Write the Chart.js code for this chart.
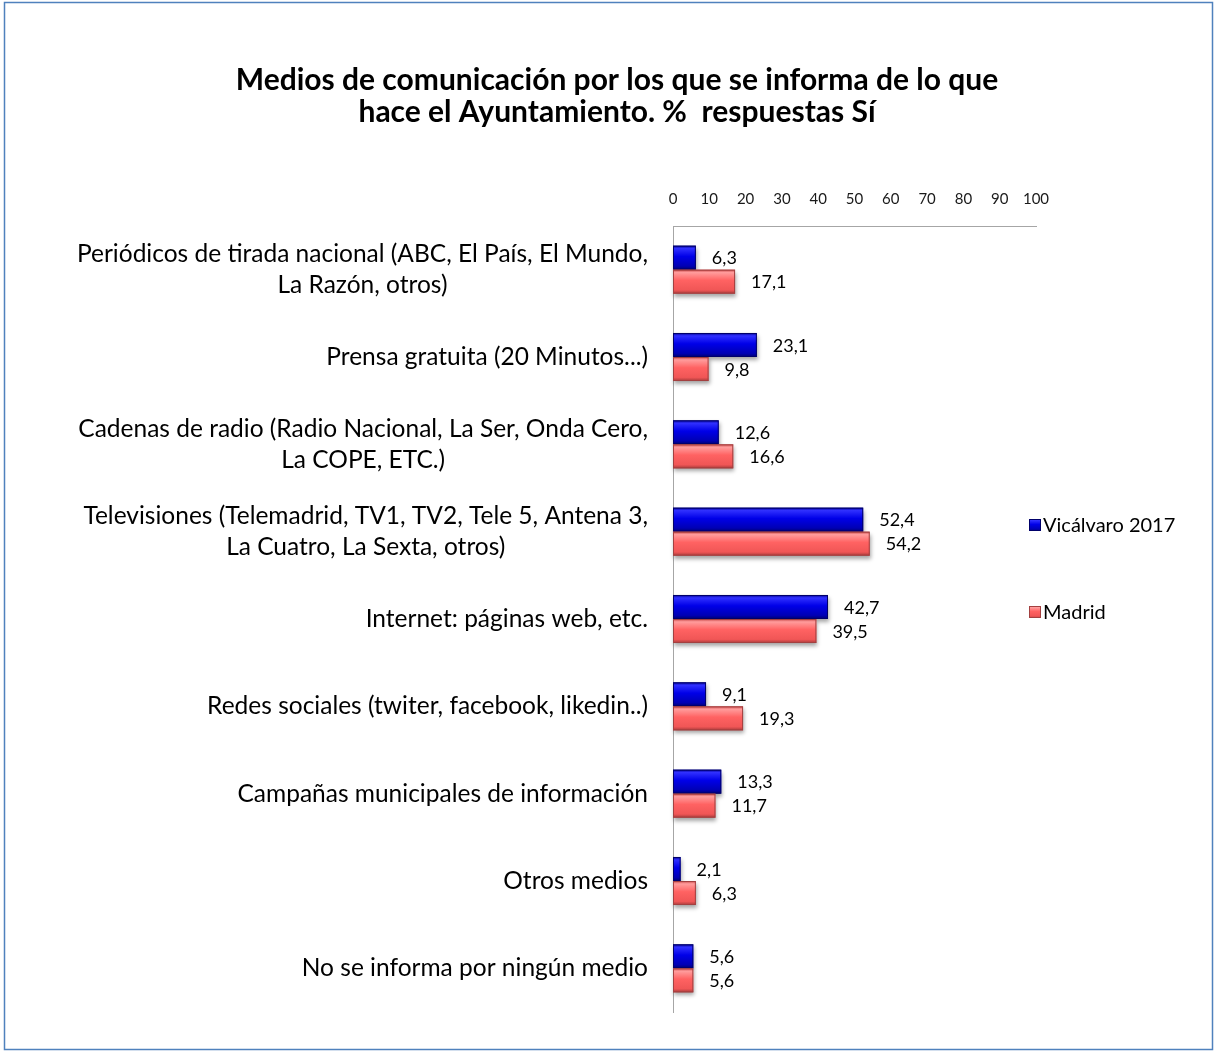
<!DOCTYPE html>
<html lang="es">
<head>
<meta charset="utf-8">
<title>Medios de comunicación - Ayuntamiento</title>
<script src="https://cdn.jsdelivr.net/npm/chart.js@4.4.1/dist/chart.umd.min.js"></script>
<style>
    html, body { margin: 0; padding: 0; background: #ffffff; }
    #wrap { width: 1216px; height: 1052px; }
</style>
</head>
<body>
<div id="wrap"><canvas id="mediosChart" width="1216" height="1052"></canvas></div>
<script>
// Categorías (una línea por elemento)
const categorias = [
    ['Periódicos de tirada nacional (ABC, El País, El Mundo,', 'La Razón, otros)'],
    ['Prensa gratuita (20 Minutos...)'],
    ['Cadenas de radio (Radio Nacional, La Ser, Onda Cero,', 'La COPE, ETC.)'],
    ['Televisiones (Telemadrid, TV1, TV2, Tele 5, Antena 3,', 'La Cuatro, La Sexta, otros)'],
    ['Internet: páginas web, etc.'],
    ['Redes sociales (twiter, facebook, likedin..)'],
    ['Campañas municipales de información'],
    ['Otros medios'],
    ['No se informa por ningún medio']
];

// Series
const serieNombres = ['Vicálvaro 2017', 'Madrid'];
const vicalvaro2017 = [6.3, 23.1, 12.6, 52.4, 42.7, 9.1, 13.3, 2.1, 5.6];
const madrid = [17.1, 9.8, 16.6, 54.2, 39.5, 19.3, 11.7, 6.3, 5.6];

// Eje de valores
const ejeMin = 0;
const ejeMax = 100;
const ejePaso = 10;

const tituloLineas = [
    'Medios de comunicación por los que se informa de lo que',
    'hace el Ayuntamiento. %  respuestas Sí'
];

const FONT = 'Lato, Calibri, "Open Sans", sans-serif';

// Colores de las barras (degradado tipo bisel)
const gradientes = [
    [[0, '#000090'], [0.12, '#3030ff'], [0.45, '#0000e8'], [0.85, '#0000b4'], [1, '#000070']],
    [[0, '#c84848'], [0.12, '#ff9c9c'], [0.45, '#ff6262'], [0.85, '#f05656'], [1, '#a83a3a']]
];
const bordes = ['#00006a', '#a34040'];

function formatoEs(v) {
    return v.toFixed(1).replace('.', ',');
}

function makeGradient(ctx, top, h, stops) {
    const g = ctx.createLinearGradient(0, top, 0, top + h);
    stops.forEach(s => g.addColorStop(s[0], s[1]));
    return g;
}

// Marco exterior
const marcoPlugin = {
    id: 'marco',
    beforeDraw(chart) {
        const ctx = chart.ctx;
        ctx.save();
        ctx.fillStyle = '#ffffff';
        ctx.fillRect(0, 0, chart.width, chart.height);
        ctx.strokeStyle = '#4f81bd';
        ctx.lineWidth = 1.5;
        ctx.strokeRect(4.5, 2.5, chart.width - 8, chart.height - 5);
        ctx.restore();
    }
};

// Título (centrado sobre todo el gráfico, no sólo sobre el área de trazado)
const tituloPlugin = {
    id: 'titulo',
    afterDraw(chart) {
        const ctx = chart.ctx;
        ctx.save();
        ctx.font = 'bold 30px ' + FONT;
        ctx.fillStyle = '#000000';
        ctx.textAlign = 'center';
        ctx.textBaseline = 'middle';
        tituloLineas.forEach((l, k) => ctx.fillText(l, 617, 80 + k * 32));
        ctx.restore();
    }
};

// Barras con degradado, sombra y etiquetas de valor
const barrasPlugin = {
    id: 'barras',
    afterDatasetsDraw(chart) {
        const ctx = chart.ctx;
        chart.getSortedVisibleDatasetMetas().forEach(meta => {
            const di = meta.index;
            meta.data.forEach((bar, i) => {
                const p = bar.getProps(['x', 'y', 'base', 'height'], true);
                const top = p.y - p.height / 2;
                const w = p.x - p.base;
                ctx.save();
                ctx.shadowColor = 'rgba(0,0,0,0.35)';
                ctx.shadowBlur = 4;
                ctx.shadowOffsetX = 1;
                ctx.shadowOffsetY = 3;
                ctx.fillStyle = makeGradient(ctx, top, p.height, gradientes[di]);
                ctx.fillRect(p.base, top, w, p.height);
                ctx.restore();

                ctx.save();
                ctx.strokeStyle = bordes[di];
                ctx.lineWidth = 1;
                ctx.strokeRect(p.base + 0.5, top + 0.5, w - 1, p.height - 1);
                ctx.restore();

                const val = chart.data.datasets[di].data[i];
                ctx.save();
                ctx.fillStyle = '#000000';
                ctx.font = '18px ' + FONT;
                ctx.textAlign = 'left';
                ctx.textBaseline = 'middle';
                ctx.fillText(formatoEs(val), p.x + 16, p.y + 1);
                ctx.restore();
            });
        });
    }
};

// Etiquetas de categoría: bloque alineado a la derecha, líneas centradas
const categoriasPlugin = {
    id: 'categorias',
    afterDraw(chart) {
        const ctx = chart.ctx;
        const yScale = chart.scales.y;
        const right = chart.chartArea.left - 25;
        const lh = 31;
        ctx.save();
        ctx.font = '24.5px ' + FONT;
        ctx.fillStyle = '#000000';
        ctx.textBaseline = 'middle';
        ctx.textAlign = 'center';
        categorias.forEach((lines, i) => {
            const cy = yScale.getPixelForValue(i);
            const blockW = Math.max(...lines.map(l => ctx.measureText(l).width));
            const cx = right - blockW / 2;
            const y0 = cy - (lines.length - 1) * lh / 2;
            lines.forEach((l, k) => ctx.fillText(l, cx, y0 + k * lh));
        });
        ctx.restore();
    }
};

// Leyenda a la derecha
const leyendaPlugin = {
    id: 'leyenda',
    afterDraw(chart) {
        const ctx = chart.ctx;
        const x = 1029;
        const ys = [525, 612];
        ctx.save();
        ctx.font = '20px ' + FONT;
        ctx.textBaseline = 'middle';
        ctx.textAlign = 'left';
        chart.data.datasets.forEach((ds, i) => {
            const top = ys[i] - 6;
            ctx.fillStyle = makeGradient(ctx, top, 12, gradientes[i]);
            ctx.fillRect(x, top, 12, 12);
            ctx.strokeStyle = bordes[i];
            ctx.lineWidth = 1;
            ctx.strokeRect(x + 0.5, top + 0.5, 11, 11);
            ctx.fillStyle = '#000000';
            ctx.fillText(ds.label, x + 14, ys[i] + 1);
        });
        ctx.restore();
    }
};

const ctx = document.getElementById('mediosChart').getContext('2d');
const mediosChart = new Chart(ctx, {
    type: 'bar',
    data: {
        labels: categorias,
        datasets: [
            {
                label: serieNombres[0],
                data: vicalvaro2017,
                backgroundColor: 'rgba(0,0,0,0)',
                borderWidth: 0,
                categoryPercentage: 0.55,
                barPercentage: 1.0
            },
            {
                label: serieNombres[1],
                data: madrid,
                backgroundColor: 'rgba(0,0,0,0)',
                borderWidth: 0,
                categoryPercentage: 0.55,
                barPercentage: 1.0
            }
        ]
    },
    options: {
        indexAxis: 'y',
        responsive: false,
        animation: false,
        devicePixelRatio: 1,
        layout: {
            padding: { left: 0, right: 180, top: 0, bottom: 40 }
        },
        plugins: {
            legend: { display: false },
            tooltip: { enabled: false },
            title: { display: false }
        },
        scales: {
            x: {
                position: 'top',
                min: ejeMin,
                max: ejeMax,
                ticks: {
                    stepSize: ejePaso,
                    color: '#1a1a1a',
                    font: { family: FONT, size: 15 },
                    padding: 18,
                    maxRotation: 0
                },
                grid: { display: false, drawTicks: false },
                border: { display: true, color: '#a6a6a6', width: 1 },
                afterFit(scale) { scale.height = 226; }
            },
            y: {
                ticks: { display: false },
                grid: { display: false, drawTicks: false },
                border: { display: true, color: '#a6a6a6', width: 1 },
                afterFit(scale) { scale.width = 673; }
            }
        }
    },
    plugins: [marcoPlugin, barrasPlugin, categoriasPlugin, tituloPlugin, leyendaPlugin]
});
</script>
</body>
</html>
